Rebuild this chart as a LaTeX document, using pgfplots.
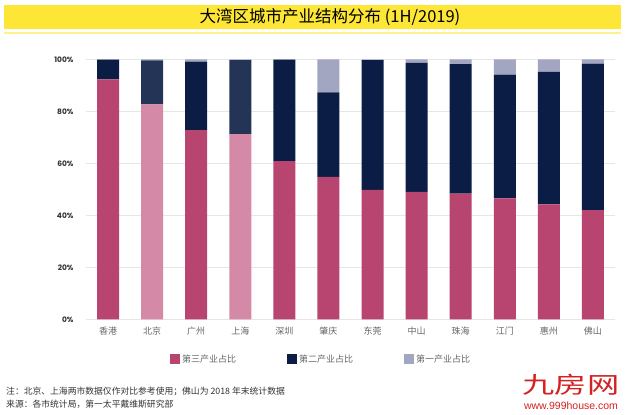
\documentclass[border=0pt]{standalone}
\usepackage{pgfplots}
\usepackage{pgfplotstable}
\pgfplotsset{compat=1.18}
\usepackage{fontspec}
\setmainfont{Noto Sans CJK SC}
\newfontfamily\tickfont{Poppins}
\newfontfamily\logofont{Liberation Sans}
\definecolor{pinkA}{HTML}{B8456F}
\definecolor{pinkB}{HTML}{D48AA6}
\definecolor{navyA}{HTML}{0C1D45}
\definecolor{navyB}{HTML}{233456}
\definecolor{greyA}{HTML}{A3A6C0}
\definecolor{titleyellow}{HTML}{FDE636}
\definecolor{gridgray}{HTML}{E6E6E6}
\definecolor{labelgray}{HTML}{666666}
\definecolor{notegray}{HTML}{333333}
\definecolor{logored}{HTML}{D42222}

\pgfplotstableread{
idx pink pinkL navy navyL grey
0  92.3 0    7.6  0    0.1
1  0    82.7 0    16.9 0.4
2  72.8 0    26.3 0    0.9
3  0    71.2 0    28.5 0.3
4  60.8 0    39.1 0    0.1
5  54.8 0    32.5 0    12.7
6  49.8 0    49.9 0    0.3
7  49.0 0    49.6 0    1.4
8  48.3 0    49.8 0    1.9
9  46.5 0    47.6 0    5.9
10 44.2 0    51.0 0    4.8
11 42.0 0    56.3 0    1.7
}\datatable

\begin{document}
\begin{tikzpicture}
\useasboundingbox (0pt,0pt) rectangle (625pt,-415pt);
\fill[white] (0pt,0pt) rectangle (625pt,-415pt);
\fill[titleyellow] (4pt,-5pt) rectangle (621pt,-29pt);
\fill[titleyellow!55] (4pt,-32pt) rectangle (621pt,-34pt);
\node[font=\fontsize{16.5}{18}\selectfont, text=black] at (330pt,-17.5pt) {大湾区城市产业结构分布 (1H/2019)};

\begin{axis}[
  at={(86pt,-319.3pt)}, anchor=south west,
  scale only axis, width=529pt, height=260pt,
  ybar stacked, bar width=22pt,
  xmin=-0.5, xmax=11.5, ymin=0, ymax=100,
  xtick={0,...,11},
  xticklabels={香港,北京,广州,上海,深圳,肇庆,东莞,中山,珠海,江门,惠州,佛山},
  ytick={0,20,40,60,80,100},
  yticklabel={\pgfmathprintnumber{\tick}\%},
  /pgf/number format/assume math mode=true,
  ymajorgrids, grid style={draw=gridgray, line width=0.6pt},
  axis line style={draw=none},
  major tick length=0pt, tick style={draw=none},
  xticklabel style={font=\fontsize{9}{10}\selectfont, text=labelgray, yshift=-4pt},
  yticklabel style={font=\tickfont\bfseries\fontsize{7.5}{8}\selectfont, text=notegray, xshift=-9pt},
  every axis plot post/.append style={legend image code/.code={\fill[##1] (0pt,-5pt) rectangle (10pt,5pt);}},
  legend columns=3,
  legend style={at={(0.1588,-0.1527)}, anchor=west, draw=none, fill=none,
    inner sep=0pt, font=\fontsize{9}{10}\selectfont, text=labelgray,
    /tikz/every even column/.append style={column sep=49pt}},
]
\addplot[fill=pinkA, draw=none] table[x=idx, y=pink] {\datatable};
\addlegendentry{第三产业占比}
\addplot[fill=pinkB, draw=none, forget plot] table[x=idx, y=pinkL] {\datatable};
\addplot[fill=navyA, draw=none] table[x=idx, y=navy] {\datatable};
\addlegendentry{第二产业占比}
\addplot[fill=navyB, draw=none, forget plot] table[x=idx, y=navyL] {\datatable};
\addplot[fill=greyA, draw=none] table[x=idx, y=grey] {\datatable};
\addlegendentry{第一产业占比}
\end{axis}

\node[anchor=west, font=\fontsize{8.8}{10}\selectfont, text=notegray, inner sep=0pt] at (6pt,-391pt) {注：北京、上海两市数据仅作对比参考使用；佛山为 2018 年末统计数据};
\node[anchor=west, font=\fontsize{8.8}{10}\selectfont, text=notegray, inner sep=0pt] at (6pt,-404pt) {来源：各市统计局，第一太平戴维斯研究部};
\node[text=logored, font=\fontsize{23}{23}\selectfont, xscale=1.4, inner sep=0pt] at (571pt,-385pt) {九房网};
\node[text=logored, font=\logofont\fontsize{10.5}{11}\selectfont, inner sep=0pt] at (571pt,-406pt) {www.999house.com};
\end{tikzpicture}
\end{document}
